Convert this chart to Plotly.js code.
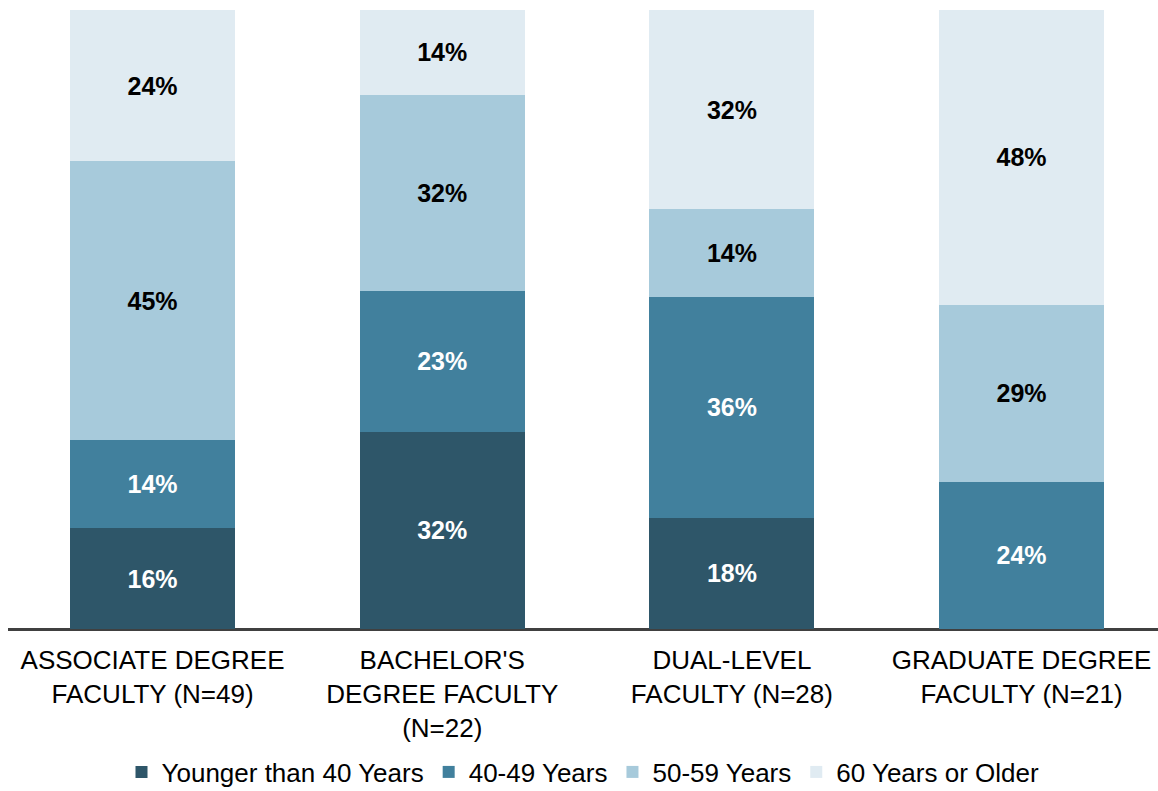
<!DOCTYPE html>
<html>
<head>
<meta charset="utf-8">
<script src="https://cdn.plot.ly/plotly-3.0.1.min.js"></script>
<style>html,body{margin:0;padding:0;background:#fff;}#chart{width:1158px;height:791px;}</style>
</head>
<body>
<div id="chart"></div>
<script>
const categories = [
  "ASSOCIATE DEGREE<br>FACULTY (N=49)",
  "BACHELOR'S<br>DEGREE FACULTY<br>(N=22)",
  "DUAL-LEVEL<br>FACULTY (N=28)",
  "GRADUATE DEGREE<br>FACULTY (N=21)"
];
const seriesNames = ["Younger than 40 Years", "40-49 Years", "50-59 Years", "60 Years or Older"];
const under40 = [16.3, 31.9, 18.0, 0];
const age40to49 = [14.2, 22.7, 35.6, 23.8];
const age50to59 = [45.1, 31.7, 14.2, 28.6];
const age60plus = [24.4, 13.7, 32.2, 47.6];
const seriesValues = [under40, age40to49, age50to59, age60plus];
const colors = ["#2e5669", "#41809d", "#a7cadb", "#e0ebf2"];
const textColors = ["#ffffff", "#ffffff", "#000000", "#000000"];

const traces = seriesValues.map((vals, i) => ({
  type: "bar",
  name: seriesNames[i],
  x: categories,
  y: vals,
  marker: {color: colors[i], line: {width: 0}},
  text: vals.map(v => v > 0 ? Math.round(v) + "%" : ""),
  textposition: "inside",
  insidetextanchor: "middle",
  textangle: 0,
  constraintext: "none",
  textfont: {family: "Liberation Sans, Arial, sans-serif", size: 25, color: textColors[i], weight: "bold"},
  hoverinfo: "skip",
  width: 0.57
}));

const layout = {
  width: 1158,
  height: 791,
  barmode: "stack",
  margin: {l: 8, r: 0, t: 10, b: 162},
  paper_bgcolor: "#ffffff",
  plot_bgcolor: "#ffffff",
  font: {family: "Liberation Sans, Arial, sans-serif", color: "#000000"},
  xaxis: {
    range: [-0.499, 3.471],
    showgrid: false,
    zeroline: false,
    showline: false,
    ticks: "",
    ticklabelstandoff: 13,
    tickfont: {size: 26, color: "#000000"},
    fixedrange: true
  },
  yaxis: {
    range: [0, 100],
    showgrid: false,
    zeroline: true,
    zerolinecolor: "#404040",
    zerolinewidth: 3,
    showticklabels: false,
    ticks: "",
    fixedrange: true
  },
  showlegend: true,
  legend: {
    orientation: "h",
    x: 0.5,
    xanchor: "center",
    y: 0.024,
    yanchor: "middle",
    yref: "container",
    font: {size: 26, color: "#000000"},
    itemwidth: 30,
    traceorder: "normal"
  },
  hovermode: false
};

Plotly.newPlot("chart", traces, layout, {displayModeBar: false, staticPlot: true});
</script>
</body>
</html>
